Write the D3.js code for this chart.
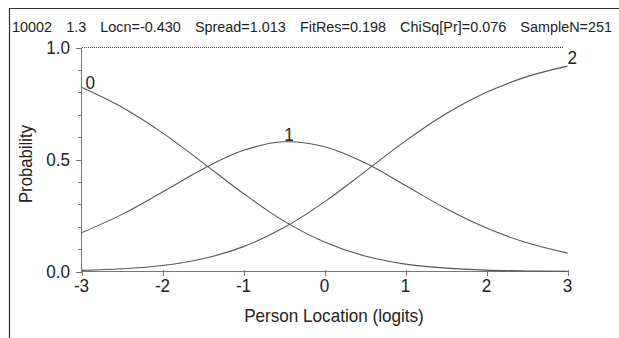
<!DOCTYPE html>
<html lang="en">
<head>
<meta charset="utf-8">
<title>Category probability curves</title>
<style>
body{
  margin: 0;
  background: #fff;
}
svg text{
  font-family: "Liberation Sans", Arial, sans-serif;
  fill: #222;
}
.axis line{
  stroke: #777;
  fill: none;
  shape-rendering: crispEdges;
}
</style>
<script src="https://d3js.org/d3.v7.min.js"></script>
</head>
<body>
<div id="chart"></div>
<script>
/* values */
var titleItems = ['10002', '1.3', 'Locn=-0.430', 'Spread=1.013', 'FitRes=0.198', 'ChiSq[Pr]=0.076', 'SampleN=251'];
var theta = [-3, -2.5, -2, -1.5, -1, -0.5, 0, 0.5, 1, 1.5, 2, 2.5, 3];
var cat0 = [0.822, 0.733, 0.619, 0.485, 0.348, 0.225, 0.132, 0.069, 0.033, 0.015, 0.006, 0.0025, 0.001];
var cat1 = [0.173, 0.255, 0.355, 0.458, 0.541, 0.579, 0.557, 0.485, 0.384, 0.281, 0.194, 0.128, 0.082];
var cat2 = [0.005, 0.012, 0.027, 0.057, 0.111, 0.196, 0.311, 0.446, 0.583, 0.704, 0.800, 0.870, 0.917];
var xTicks = [-3, -2, -1, 0, 1, 2, 3];
var yMajor = [0, 0.5, 1];
var yMinor = d3.range(0, 11).map(function(i) { return i / 10; });

var width = 619, height = 338;

/* the original font is a narrow one, squeeze Liberation Sans a bit */
function narrow(sel, f) {
  sel.each(function() {
    var w = this.getComputedTextLength();
    d3.select(this)
      .attr('textLength', w * f)
      .attr('lengthAdjust', 'spacingAndGlyphs');
  });
  return sel;
}

var svg = d3.select('#chart').append('svg')
  .attr('width', width)
  .attr('height', height);

/* frame lines top and left */
svg.append('line').attr('x1', 9).attr('x2', width).attr('y1', 8.5).attr('y2', 8.5)
  .style('stroke', '#333').style('stroke-width', 1.2);
svg.append('line').attr('x1', 9.5).attr('x2', 9.5).attr('y1', 8).attr('y2', height)
  .style('stroke', '#333').style('stroke-width', 1.2);

/* header: items spread over 600px from x=12, drawn in a squeezed group */
var squeeze = 0.93;
var tt = svg.append('g')
  .attr('transform', 'translate(12, 32) scale(' + squeeze + ', 1)')
  .selectAll('text')
  .data(titleItems)
  .enter()
  .append('text')
  .style('font-size', '15.5px')
  .text(function(d) { return d; });
var widths = [];
tt.each(function() { widths.push(this.getComputedTextLength()); });
var gap = (600 / squeeze - d3.sum(widths)) / (titleItems.length - 1);
var pos = 0;
tt.attr('x', function(d, i) { var p = pos; pos += widths[i] + gap; return p; });

var xScale = d3.scaleLinear().domain([-3, 3]).range([81.5, 567.5]);
var yScale = d3.scaleLinear().domain([0, 1]).range([271.5, 47.5]);

/* dotted line at 1.0 */
svg.append('line')
  .attr('x1', xScale(-3)).attr('x2', 564)
  .attr('y1', 47.5).attr('y2', 47.5)
  .style('stroke', '#444')
  .style('stroke-width', 1)
  .style('shape-rendering', 'crispEdges')
  .style('stroke-dasharray', '1,1');

var yAxis = svg.append('g').attr('class', 'axis');
yAxis.append('line')
  .attr('x1', xScale(-3)).attr('x2', xScale(-3))
  .attr('y1', yScale(1)).attr('y2', yScale(0));
yAxis.selectAll('.tk')
  .data(yMinor)
  .enter()
  .append('line')
  .attr('x1', function(d) { return xScale(-3) - (yMajor.indexOf(d) >= 0 ? 6 : 4); })
  .attr('x2', xScale(-3))
  .attr('y1', function(d) { return Math.round(yScale(d)) + 0.5; })
  .attr('y2', function(d) { return Math.round(yScale(d)) + 0.5; });
narrow(yAxis.selectAll('text')
  .data(yMajor)
  .enter()
  .append('text')
  .attr('x', 70)
  .attr('y', function(d) { return yScale(d); })
  .attr('dy', '0.36em')
  .style('text-anchor', 'end')
  .style('font-size', '19px')
  .text(function(d) { return d3.format('.1f')(d); }), 0.9);

var xAxis = svg.append('g').attr('class', 'axis');
xAxis.append('line')
  .attr('x1', xScale(-3)).attr('x2', xScale(3))
  .attr('y1', yScale(0)).attr('y2', yScale(0));
xAxis.selectAll('.tk')
  .data(xTicks)
  .enter()
  .append('line')
  .attr('x1', function(d) { return Math.round(xScale(d)) + 0.5; })
  .attr('x2', function(d) { return Math.round(xScale(d)) + 0.5; })
  .attr('y1', yScale(0) - 2)
  .attr('y2', yScale(0) + 4);
narrow(xAxis.selectAll('text')
  .data(xTicks)
  .enter()
  .append('text')
  .attr('x', function(d) { return xScale(d); })
  .attr('y', 292)
  .style('text-anchor', 'middle')
  .style('font-size', '19px')
  .text(function(d) { return d; }), 0.9);

narrow(svg.append('text')
  .attr('x', 334)
  .attr('y', 322)
  .style('text-anchor', 'middle')
  .style('font-size', '19px')
  .text('Person Location (logits)'), 0.9);

narrow(svg.append('text')
  .attr('transform', 'translate(32, 164) rotate(-90)')
  .style('text-anchor', 'middle')
  .style('font-size', '19px')
  .text('Probability'), 0.88);

/* category curves */
var line = d3.line()
  .x(function(d, i) { return xScale(theta[i]); })
  .y(function(d) { return yScale(d); })
  .curve(d3.curveCatmullRom);

svg.selectAll('.curve')
  .data([cat0, cat1, cat2])
  .enter()
  .append('path')
  .attr('class', 'curve')
  .attr('d', line)
  .style('fill', 'none')
  .style('stroke', '#555')
  .style('stroke-width', 1.1);

/* category labels */
var peak = d3.maxIndex(cat1);
var labs = svg.append('g');
labs.append('text')
  .attr('x', xScale(-3) + 4)
  .attr('y', yScale(cat0[0]) + 1.5)
  .text('0');
labs.append('text')
  .attr('x', xScale(theta[peak]) + 5)
  .attr('y', yScale(cat1[peak]) - 1)
  .style('text-anchor', 'middle')
  .text('1');
labs.append('text')
  .attr('x', xScale(3))
  .attr('y', yScale(cat2[cat2.length - 1]) - 2)
  .text('2');
narrow(labs.selectAll('text').style('font-size', '19px'), 0.9);
</script>
</body>
</html>
